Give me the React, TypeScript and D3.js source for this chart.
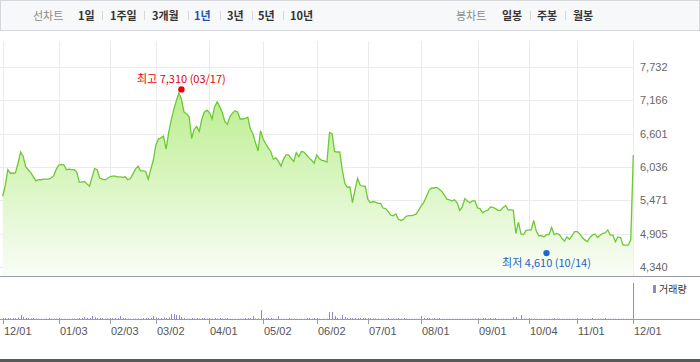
import React from 'react';
import * as d3 from 'd3';

const closes: number[] = [
  5540, 5720, 5990, 5930, 5930, 5940, 6100, 6290, 6220, 6040,
  5990, 5940, 5870, 5800, 5820, 5820, 5830, 5830, 5830, 5850,
  5890, 6000, 6070, 6080, 6070, 5990, 6000, 5990, 5990, 5950,
  5780, 5780, 5790, 5750, 5710, 5860, 6010, 5990, 5850, 5830,
  5820, 5840, 5870, 5880, 5880, 5870, 5870, 5860, 5870, 5820,
  5840, 5920, 6000, 6050, 5970, 5970, 5960, 5830, 6000, 6150,
  6410, 6510, 6530, 6560, 6340, 6620, 6830, 7010, 7160, 7290,
  7190, 6970, 6940, 6890, 6520, 6680, 6720, 6640, 6850, 6970,
  7000, 6960, 6850, 7060, 7140, 7060, 6960, 6810, 6760, 6890,
  6950, 6990, 6970, 6850, 6850, 6860, 6880, 6680, 6600, 6450,
  6310, 6650, 6510, 6430, 6360, 6300, 6170, 6190, 6130, 6050,
  6170, 6240, 6240, 6180, 6130, 6280, 6210, 6300, 6290, 6240,
  6190, 6150, 6100, 6240, 6180, 6150, 6140, 6120, 6620, 6600,
  6300, 6290, 6290, 5990, 5760, 5690, 5700, 5430, 5650, 5840,
  5730, 5710, 5710, 5490, 5430, 5450, 5440, 5420, 5420, 5340,
  5330, 5280, 5220, 5210, 5240, 5150, 5130, 5150, 5200, 5210,
  5210, 5220, 5240, 5310, 5380, 5440, 5540, 5640, 5680, 5680,
  5690, 5660, 5620, 5560, 5490, 5480, 5460, 5480, 5430, 5300,
  5360, 5500, 5460, 5430, 5460, 5460, 5340, 5330, 5260, 5290,
  5300, 5360, 5350, 5330, 5300, 5300, 5350, 5380, 5310, 5310,
  5300, 4910, 5100, 4900, 4890, 4960, 4970, 4970, 5130, 4950,
  4870, 4870, 4850, 4890, 4890, 5010, 4890, 4910, 4890, 4830,
  4780, 4850, 4810, 4870, 4940, 4940, 4900, 4840, 4800, 4770,
  4840, 4880, 4900, 4840, 4880, 4910, 4920, 4970, 4880, 4880,
  4770, 4850, 4840, 4710, 4710, 4710, 4800, 6240,
];

const volumes: number[] = [
  60, 100, 100, 80, 100, 100, 150, 400, 200, 100,
  100, 80, 100, 40, 30, 30, 30, 40, 100, 30,
  30, 40, 50, 30, 30, 30, 30, 30, 30, 40,
  100, 100, 200, 100, 100, 300, 150, 100, 100, 100,
  40, 50, 100, 100, 100, 100, 300, 100, 100, 40,
  30, 30, 40, 40, 30, 100, 100, 100, 100, 300,
  150, 100, 100, 150, 100, 150, 500, 500, 400, 400,
  200, 100, 40, 40, 100, 40, 100, 40, 100, 100,
  40, 100, 40, 100, 40, 100, 40, 40, 100, 30,
  30, 30, 30, 30, 30, 100, 100, 100, 300, 40,
  40, 900, 100, 100, 100, 100, 40, 40, 300, 30,
  30, 30, 100, 30, 30, 30, 30, 30, 30, 100,
  100, 40, 100, 40, 30, 30, 30, 40, 700, 700,
  300, 100, 40, 400, 200, 100, 100, 100, 100, 100,
  100, 100, 100, 100, 100, 40, 40, 40, 40, 40,
  40, 100, 40, 40, 40, 100, 40, 100, 30, 30,
  30, 30, 30, 30, 300, 100, 100, 100, 40, 100,
  40, 100, 30, 30, 30, 30, 30, 30, 30, 30,
  30, 30, 30, 30, 30, 30, 30, 30, 100, 100,
  40, 100, 40, 100, 30, 30, 30, 30, 30, 30,
  200, 200, 30, 400, 30, 30, 30, 30, 30, 30,
  30, 30, 30, 30, 30, 30, 100, 30, 30, 30,
  30, 30, 30, 30, 30, 30, 30, 30, 30, 30,
  30, 100, 30, 30, 30, 30, 100, 30, 30, 30,
  30, 30, 30, 30, 30, 30, 30, 3600,
];

const xTickIdx: number[] = [0, 22, 42, 60, 81, 102, 123, 143, 164, 186, 206, 225, 247];
const xTickLabels: string[] = ['12/01', '01/03', '02/03', '03/02', '04/01', '05/02', '06/02', '07/01', '08/01', '09/01', '10/04', '11/01', '12/01'];
const yTicks: number[] = [4340, 4905, 5471, 6036, 6601, 7166, 7732];

const maxIdx = 70;
const maxValue = 7310;
const maxLabel = '최고 7,310 (03/17)';
const minIdx = 213;
const minValue = 4610;
const minLabel = '최저 4,610 (10/14)';

const periodTabs: string[] = ['1일', '1주일', '3개월', '1년', '3년', '5년', '10년'];
const candleTabs: string[] = ['일봉', '주봉', '월봉'];
const volumeLegend = '거래량';

export default function App() {
  const W = 700;
  const H = 362;
  const plotTop = 67;
  const plotBottom = 267;
  const axisY = 276;
  const volBase = 319;

  const x = d3.scaleLinear().domain([0, closes.length - 1]).range([2.7, 633.3]);
  const y = d3.scaleLinear().domain([yTicks[0], yTicks[yTicks.length - 1]]).range([plotBottom, plotTop]);
  const vy = d3.scaleLinear().domain([0, d3.max(volumes) as number]).range([volBase, 283]);

  const areaGen = d3.area<number>().x((_, i) => x(i)).y0(axisY).y1((d) => y(d));
  const lineGen = d3.line<number>().x((_, i) => x(i)).y((d) => y(d));

  const numFont = "'Liberation Sans', Arial, sans-serif";
  const krFont = "'Noto Sans CJK KR', 'Liberation Sans', sans-serif";

  const periodX = [78, 110, 152, 194, 227, 258, 290];
  const periodSep = [102, 144, 188, 220, 252, 283];
  const candleX = [502, 537, 573];
  const candleSep = [530, 565];

  return (
    <svg width={W} height={H} style={{ position: 'absolute', left: 0, top: 0, background: '#fff' }}>
      <defs>
        <linearGradient id="areaGrad" gradientUnits="userSpaceOnUse" x1="0" y1={plotTop} x2="0" y2={axisY}>
          <stop offset="0%" stopColor="#b2ec80" />
          <stop offset="100%" stopColor="#fafdf7" />
        </linearGradient>
      </defs>

      {/* top bar */}
      <rect x={0.5} y={0.5} width={W - 1} height={30} fill="#f7f8fa" stroke="#d5d7dc" />
      <text x={33} y={20} fontFamily={krFont} fontSize={11} fill="#8a8a8a">선차트</text>
      {periodTabs.map((t, i) => (
        <text key={t} x={periodX[i]} y={20} fontFamily={krFont} fontSize={11} fontWeight="bold" fill={t === '1년' ? '#2b4fb3' : '#333'}>{t}</text>
      ))}
      {periodSep.map((sx, i) => (
        <line key={'ps' + i} x1={sx + 0.5} x2={sx + 0.5} y1={11} y2={20} stroke="#d8d8d8" />
      ))}
      <text x={456} y={20} fontFamily={krFont} fontSize={11} fill="#8a8a8a">봉차트</text>
      {candleTabs.map((t, i) => (
        <text key={t} x={candleX[i]} y={20} fontFamily={krFont} fontSize={11} fontWeight="bold" fill="#333">{t}</text>
      ))}
      {candleSep.map((sx, i) => (
        <line key={'cs' + i} x1={sx + 0.5} x2={sx + 0.5} y1={11} y2={20} stroke="#d8d8d8" />
      ))}

      {/* grid */}
      {yTicks.map((t) => (
        <line key={'hg' + t} x1={0} x2={x(closes.length - 1)} y1={Math.round(y(t)) + 0.5} y2={Math.round(y(t)) + 0.5} stroke="#ebebeb" />
      ))}
      {xTickIdx.map((d, i) => (
        <line key={'vg' + i} x1={Math.round(x(d)) + 0.5} x2={Math.round(x(d)) + 0.5} y1={41} y2={axisY} stroke="#ebebeb" />
      ))}

      {/* price area */}
      <path d={areaGen(closes) || ''} fill="url(#areaGrad)" />
      <path d={lineGen(closes) || ''} fill="none" stroke="#6cc934" strokeWidth={1.3} />

      {/* y labels */}
      {yTicks.map((t) => (
        <text key={'yl' + t} x={640} y={y(t)} dy="0.35em" fontFamily={numFont} fontSize={11} fill="#666">{d3.format(',')(t)}</text>
      ))}

      {/* max / min */}
      <circle cx={x(maxIdx)} cy={y(maxValue) - 2.5} r={3.2} fill="#f0000f" />
      <text x={x(maxIdx)} y={83} textAnchor="middle" fontFamily={krFont} fontSize={11} fill="#e8000b">{maxLabel}</text>
      <circle cx={x(minIdx)} cy={y(minValue) + 2} r={3.2} fill="#1f66d6" />
      <text x={x(minIdx)} y={267} textAnchor="middle" fontFamily={krFont} fontSize={11} fill="#1f5fc8">{minLabel}</text>

      {/* axis between panels */}
      <line x1={0} x2={W} y1={axisY + 0.5} y2={axisY + 0.5} stroke="#9a9ca3" />

      {/* volume */}
      {volumes.map((v, i) => (
        <rect key={'v' + i} x={Math.round(x(i))} y={vy(v)} width={1} height={volBase - vy(v)} fill="#9784c9" />
      ))}
      <rect x={653} y={285} width={3} height={8} fill="#9784c9" />
      <text x={659} y={289} dy="0.35em" fontFamily={krFont} fontSize={10} fill="#333">{volumeLegend}</text>

      <line x1={0} x2={W} y1={volBase + 0.5} y2={volBase + 0.5} stroke="#9a9ca3" />
      {xTickIdx.map((d, i) => (
        <g key={'xt' + i}>
          <line x1={Math.round(x(d)) + 0.5} x2={Math.round(x(d)) + 0.5} y1={volBase - 1} y2={volBase + 5} stroke="#9a9ca3" />
          <text x={Math.round(x(d)) + 1} y={331} dy="0.35em" fontFamily={numFont} fontSize={11} fill="#555">{xTickLabels[i]}</text>
        </g>
      ))}

      <rect x={0} y={359} width={W} height={3} fill="#58595b" />
    </svg>
  );
}
